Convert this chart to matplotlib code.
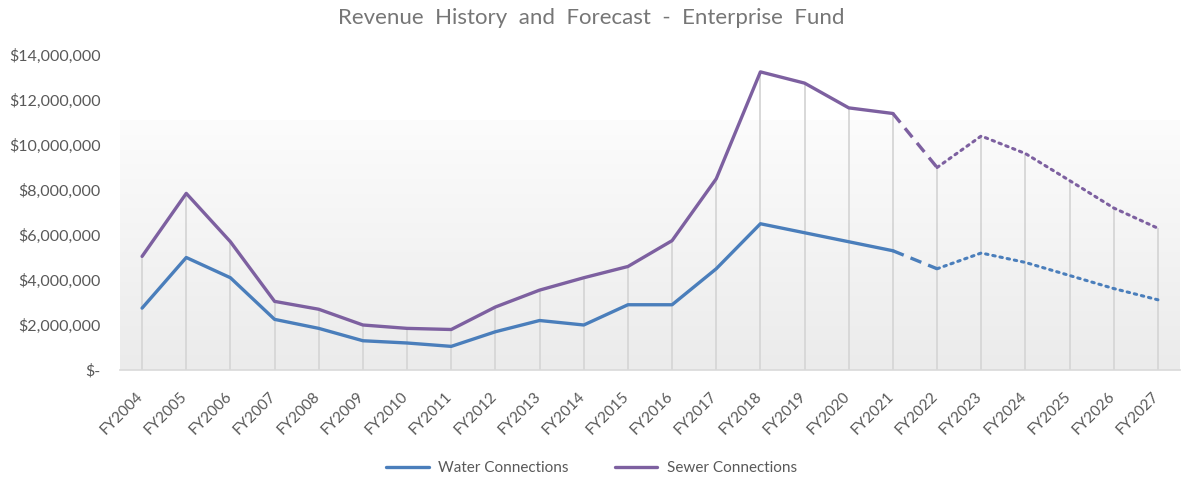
import matplotlib
matplotlib.use("Agg")
import matplotlib.pyplot as plt
import numpy as np
from matplotlib.colors import LinearSegmentedColormap
from matplotlib.ticker import FuncFormatter
from matplotlib.transforms import ScaledTranslation

years = ["FY%d" % y for y in range(2004, 2028)]
water = [2.75, 5.0, 4.1, 2.25, 1.85, 1.3, 1.2, 1.05, 1.7, 2.2, 2.0, 2.9,
         2.9, 4.5, 6.5, 6.1, 5.7, 5.3, 4.5, 5.2, 4.78, 4.2, 3.62, 3.12]
sewer = [5.05, 7.85, 5.7, 3.05, 2.7, 2.0, 1.85, 1.8, 2.8, 3.55, 4.1, 4.6,
         5.75, 8.5, 13.25, 12.75, 11.65, 11.4, 9.0, 10.4, 9.62, 8.42, 7.2, 6.3]
water = np.array(water) * 1e6
sewer = np.array(sewer) * 1e6
last_actual = years.index("FY2021")
first_forecast = years.index("FY2022")

plt.rcParams["font.family"] = ["Lato", "DejaVu Sans"]
grey = "#595959"
c_water = "#4a7ebb"
c_sewer = "#7d60a0"

fig = plt.figure(figsize=(11.83, 4.8), dpi=100)
ax = fig.add_axes([120 / 1183, 1 - 370 / 480, 1060 / 1183, 315 / 480])
x = np.arange(len(years))

# soft gradient panel behind the lines
cmap = LinearSegmentedColormap.from_list("bg", ["#ebebeb", "#fcfcfc"])
grad = np.linspace(0, 1, 256).reshape(-1, 1)
ax.imshow(grad, cmap=cmap, origin="lower", aspect="auto",
          extent=[-0.5, len(years) - 0.5, 0, 11.1e6], zorder=0)

# drop lines from the higher series to the axis
ax.vlines(x, 0, np.maximum(water, sewer), color="#d6d6d6", lw=1.3, zorder=1)

for vals, col, lab in [(water, c_water, "Water Connections"),
                       (sewer, c_sewer, "Sewer Connections")]:
    ax.plot(x[:last_actual + 1], vals[:last_actual + 1], color=col, lw=2.4,
            solid_capstyle="round", solid_joinstyle="round", label=lab, zorder=3)
    ax.plot(x[last_actual:first_forecast + 1], vals[last_actual:first_forecast + 1],
            color=col, lw=2.4, ls=(0, (3.5, 2.2)), zorder=3)
    ax.plot(x[first_forecast:], vals[first_forecast:], color=col, lw=2.2,
            ls=(0, (0.8, 1.6)), dash_capstyle="round", zorder=3)

ax.set_xlim(-0.5, len(years) - 0.5)
ax.set_ylim(0, 14e6)
ax.set_yticks(np.arange(0, 14.1e6, 2e6))
ax.yaxis.set_major_formatter(FuncFormatter(
    lambda v, p: "$-" if v == 0 else "${:,.0f}".format(v)))
ax.set_xticks(x)
ax.set_xticklabels(years, rotation=45, ha="right", va="top", rotation_mode="anchor")
ax.tick_params(axis="both", length=0, colors=grey)
ax.tick_params(axis="x", pad=14, labelsize=11)
ax.tick_params(axis="y", pad=14, labelsize=11.5)
shift = ScaledTranslation(-0.06, 0, fig.dpi_scale_trans)
for lbl in ax.get_xticklabels():
    lbl.set_transform(lbl.get_transform() + shift)
for s in ["top", "right", "left"]:
    ax.spines[s].set_visible(False)
ax.spines["bottom"].set_color("#d9d9d9")
ax.spines["bottom"].set_linewidth(1.2)
ax.set_facecolor("white")

fig.text(0.5, 1 - 18 / 480, "Revenue  History  and  Forecast  -  Enterprise  Fund",
         ha="center", va="center", fontsize=16, color="#767676")

leg = fig.legend(loc="center", bbox_to_anchor=(0.5, 1 - 468 / 480), ncol=2,
                 frameon=False, fontsize=11, handlelength=2.8, columnspacing=3,
                 handletextpad=0.6)
for t in leg.get_texts():
    t.set_color(grey)

fig.savefig("out.png", dpi=100)
